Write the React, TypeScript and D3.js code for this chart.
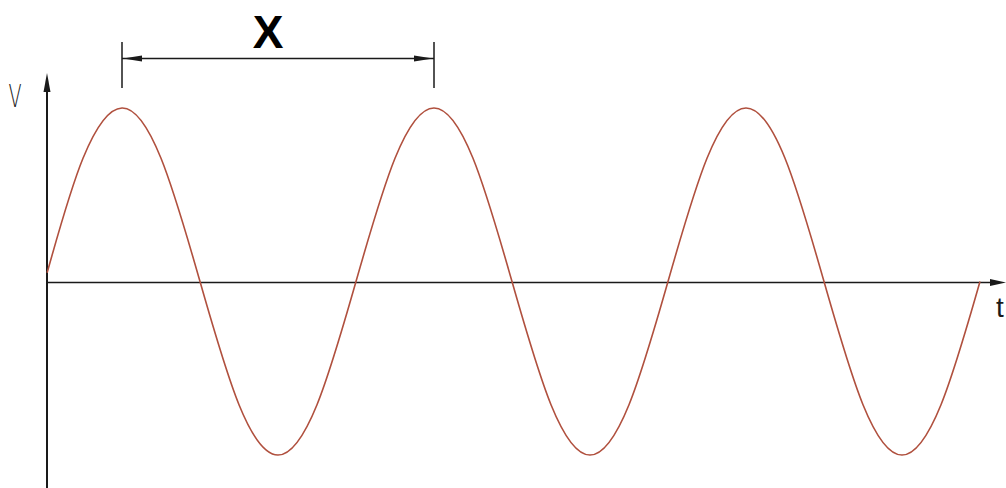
import * as d3 from 'd3';

// wave samples, every 1/8 of a period (t in periods)
const waveT = [
  0.01, 0.125, 0.25, 0.375, 0.5, 0.625, 0.75, 0.875,
  1, 1.125, 1.25, 1.375, 1.5, 1.625, 1.75, 1.875,
  2, 2.125, 2.25, 2.375, 2.5, 2.625, 2.75, 2.875, 3,
];
const waveV = [
  0.05, 0.71, 1, 0.71, 0, -0.71, -1, -0.71,
  0, 0.71, 1, 0.71, 0, -0.71, -1, -0.71,
  0, 0.71, 1, 0.71, 0, -0.71, -1, -0.71, 0,
];

// dimension marker spans peak 1 to peak 2
const dimFrom = 0.25;
const dimTo = 1.25;
const dimLabel = 'X';
const axisLabels = { v: 'V', t: 't' };

const W = 1006;
const H = 488;
const WAVE = '#b0503e';
const INK = '#1a1a1a';

export default function App() {
  const x = d3.scaleLinear().domain([0, 3]).range([44, 980]);
  const y = d3.scaleLinear().domain([-1, 1]).range([455, 108]);

  const pts = waveT.map((t, i) => [t, waveV[i]] as [number, number]);
  const line = d3
    .line<[number, number]>()
    .x((d) => x(d[0]))
    .y((d) => y(d[1]))
    .curve(d3.curveNatural);

  const axisX = 47;
  const axisY = Math.round(y(0)) + 0.5;
  const dx1 = x(dimFrom);
  const dx2 = x(dimTo);
  const dimY = 58.5;

  return (
    <svg
      width={W}
      height={H}
      style={{ position: 'absolute', left: 0, top: 0, background: '#fff' }}
    >
      {/* axes */}
      <line x1={axisX} x2={axisX} y1={88} y2={H} stroke={INK} strokeWidth={2} />
      <path d={`M${axisX},73 L${axisX - 3.5},92 L${axisX + 3.5},92 Z`} fill={INK} />
      <line x1={axisX} x2={996} y1={axisY} y2={axisY} stroke={INK} strokeWidth={1.6} />
      <path d={`M1006,${axisY} L990,${axisY - 3.5} L990,${axisY + 3.5} Z`} fill={INK} />
      <text
        x={15}
        y={107}
        textAnchor="middle"
        fontFamily="'DejaVu Sans', sans-serif"
        fontWeight={300}
        fontSize={32}
        fill={INK}
        transform="translate(15 0) scale(0.6 1) translate(-15 0)"
      >
        {axisLabels.v}
      </text>
      <text
        x={1000}
        y={317}
        textAnchor="middle"
        fontFamily="'Liberation Sans', sans-serif"
        fontSize={28}
        fill={INK}
      >
        {axisLabels.t}
      </text>

      {/* wave */}
      <path d={line(pts) ?? ''} fill="none" stroke={WAVE} strokeWidth={1.6} />

      {/* dimension */}
      <line x1={dx1} x2={dx1} y1={42} y2={88} stroke={INK} strokeWidth={1.5} />
      <line x1={dx2} x2={dx2} y1={42} y2={88} stroke={INK} strokeWidth={1.5} />
      <line x1={dx1} x2={dx2} y1={dimY} y2={dimY} stroke={INK} strokeWidth={1.5} />
      <path d={`M${dx1 + 1},${dimY} L${dx1 + 20},${dimY - 3} L${dx1 + 20},${dimY + 3} Z`} fill={INK} />
      <path d={`M${dx2 - 1},${dimY} L${dx2 - 20},${dimY - 3} L${dx2 - 20},${dimY + 3} Z`} fill={INK} />
      <text
        x={(dx1 + dx2) / 2 - 10}
        y={48}
        textAnchor="middle"
        fontFamily="'Liberation Sans', Arial, sans-serif"
        fontWeight="bold"
        fontSize={46}
        fill="#000"
      >
        {dimLabel}
      </text>
    </svg>
  );
}
